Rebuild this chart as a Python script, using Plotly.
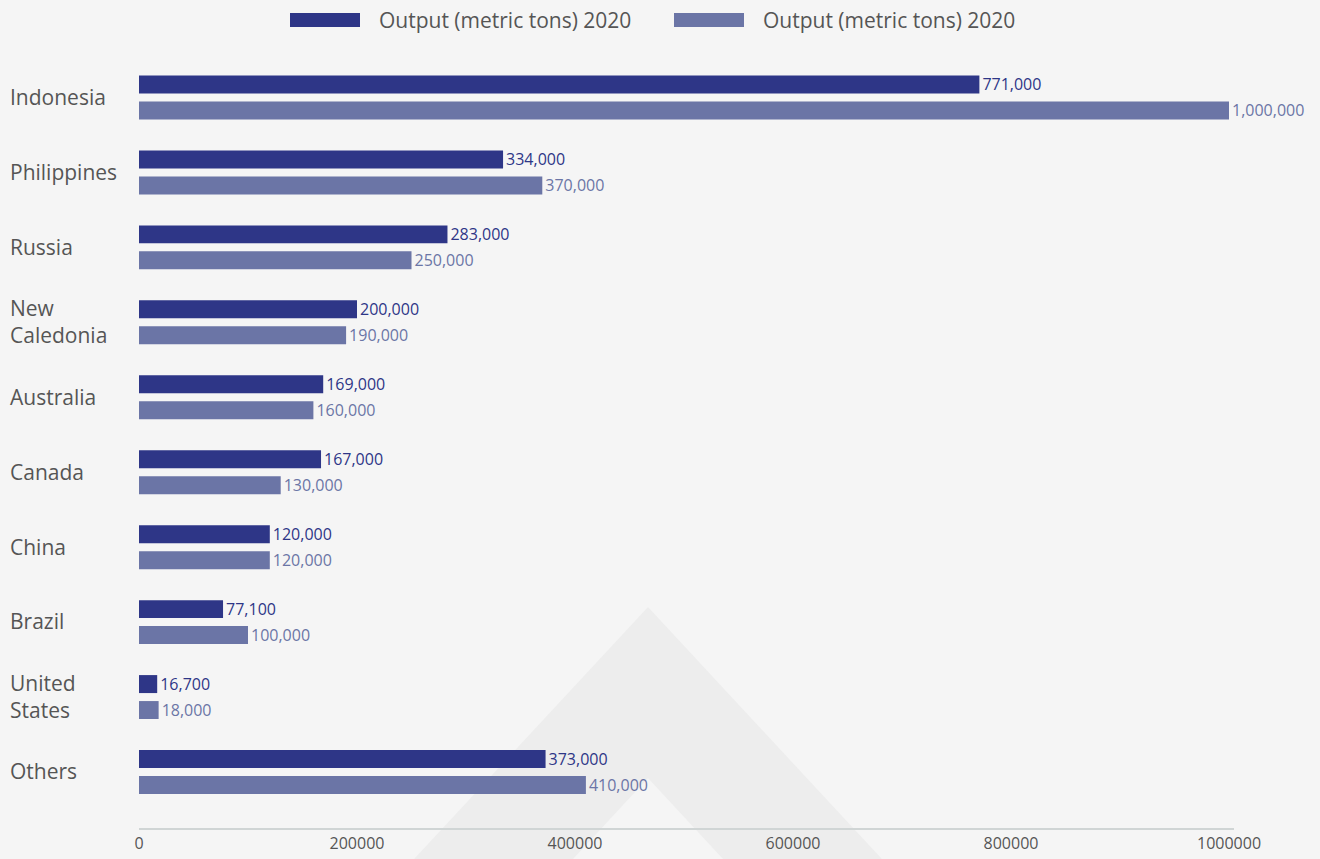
import plotly.graph_objects as go

# ---- data ----
countries = ["Indonesia", "Philippines", "Russia", "New<br>Caledonia", "Australia",
             "Canada", "China", "Brazil", "United<br>States", "Others"]
series_a_name = "Output (metric tons) 2020"
series_b_name = "Output (metric tons) 2020"
output_a = [771000, 334000, 283000, 200000, 169000, 167000, 120000, 77100, 16700, 373000]
output_b = [1000000, 370000, 250000, 190000, 160000, 130000, 120000, 100000, 18000, 410000]
x_ticks = [0, 200000, 400000, 600000, 800000, 1000000]

# ---- style ----
DARK = "#2e3687"
LIGHT = "#6b75a6"
BG = "#f5f5f5"
TXT = "#555555"
FONT = "Open Sans"

W, H = 1320, 859
L, R, T, B = 0, 86, 60, 31
PW, PH = W - L - R, H - T - B
PLOT_LEFT = 139


def px(x):
    return (x - L) / PW


def py(y):
    return (H - B - y) / PH


fig = go.Figure()
fig.add_trace(go.Bar(
    orientation="h", y=countries, x=output_a, name=series_a_name,
    marker=dict(color=DARK, line=dict(width=0)),
    texttemplate="%{x:,}", textposition="outside", constraintext="none",
    textfont=dict(color=DARK, size=16, family=FONT), cliponaxis=False,
    showlegend=False,
))
fig.add_trace(go.Bar(
    orientation="h", y=countries, x=output_b, name=series_b_name,
    marker=dict(color=LIGHT, line=dict(width=0)),
    texttemplate="%{x:,}", textposition="outside", constraintext="none",
    textfont=dict(color=LIGHT, size=16, family=FONT), cliponaxis=False,
    showlegend=False,
))

# watermark chevron (decoration)
shapes = [
    dict(type="path", xref="paper", yref="paper", layer="below",
         path=f"M {px(376)} {py(900)} L {px(648)} {py(607)} L {px(920)} {py(900)} Z",
         fillcolor="#ededed", line=dict(width=0)),
    dict(type="path", xref="paper", yref="paper", layer="below",
         path=f"M {px(535)} {py(900)} L {px(648)} {py(778)} L {px(761)} {py(900)} Z",
         fillcolor=BG, line=dict(width=0)),
]
# custom legend swatches
annotations = []
for (x0, x1, tx, col, name) in [(290, 360, 377, DARK, series_a_name),
                                (674, 744, 761, LIGHT, series_b_name)]:
    shapes.append(dict(type="rect", xref="paper", yref="paper",
                       x0=px(x0), x1=px(x1), y0=py(27), y1=py(13),
                       fillcolor=col, line=dict(width=0)))
    annotations.append(dict(text=name, xref="paper", yref="paper", x=px(tx), y=py(20),
                            xanchor="left", yanchor="middle", showarrow=False,
                            font=dict(size=21, color=TXT, family=FONT)))

fig.update_layout(
    width=W, height=H,
    margin=dict(l=L, r=R, t=T, b=B, pad=0, autoexpand=False),
    paper_bgcolor=BG, plot_bgcolor="rgba(0,0,0,0)",
    barmode="group", bargap=0.307, bargroupgap=0.308,
    font=dict(family=FONT, color=TXT),
    shapes=shapes, annotations=annotations,
    xaxis=dict(domain=[px(PLOT_LEFT), 1], range=[0, 1000000 * 1095 / 1090],
               automargin=False,
               showgrid=False, zeroline=False, showline=True,
               linecolor="#d0d5d5", linewidth=1.5, ticks="",
               tickvals=x_ticks, ticktext=[str(v) for v in x_ticks],
               tickfont=dict(size=16, color=TXT, family=FONT)),
    yaxis=dict(type="category", range=[9.747, -0.5], anchor="free", position=0,
               automargin=False,
               ticklabelposition="inside", ticks="", showline=False, showgrid=False,
               zeroline=False, ticklabelstandoff=6,
               tickfont=dict(size=21, color=TXT, family=FONT)),
)

fig.write_html("out.html")
